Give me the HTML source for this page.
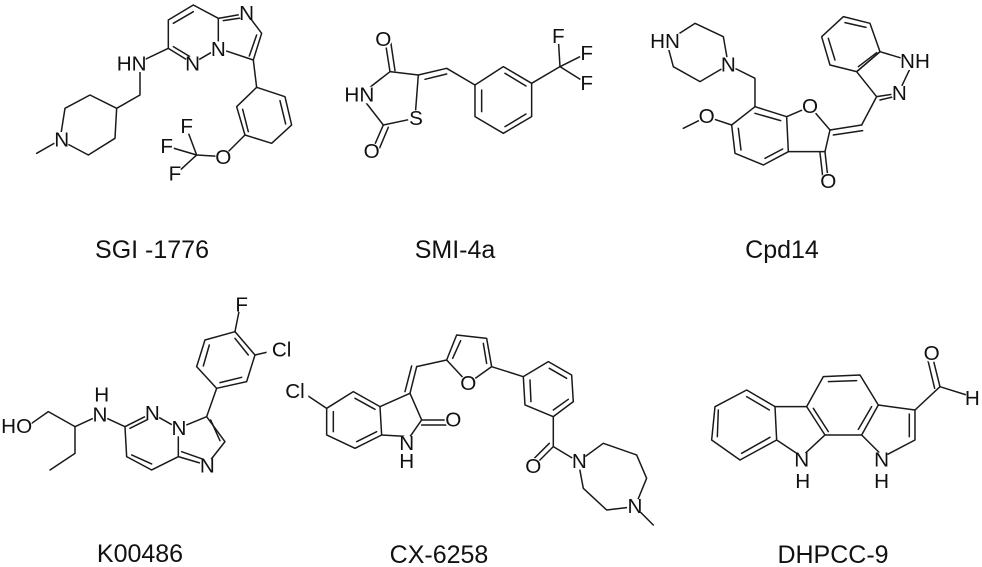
<!DOCTYPE html>
<html><head><meta charset="utf-8"><style>
html,body{margin:0;padding:0;background:#fff;}
svg{display:block;}
.b{fill:none;stroke:#1a1a1a;stroke-width:4.5;stroke-linejoin:round;stroke-linecap:round;}
.a{font-family:"Liberation Sans",sans-serif;font-size:62px;fill:#111;text-anchor:middle;dominant-baseline:central;}
.w{fill:#fff;stroke:none;}
.c{font-family:"Liberation Sans",sans-serif;font-size:25px;fill:#111;text-anchor:middle;}
</style></head><body>
<svg width="982" height="567" viewBox="0 0 982 567" xmlns="http://www.w3.org/2000/svg">
<!-- SGI-1776 -->
<g transform="scale(0.3333)">
<polyline class="b" points="580,15 655,55 655,145 578,190 505,145 505,60 580,15"/>
<polyline class="b" points="520,70 580,35"/>
<polyline class="b" points="520,140 570,170"/>
<polyline class="b" points="655,55 740,40 785,100 760,180 655,145"/>
<polyline class="b" points="670,62 735,52"/>
<polyline class="b" points="770,105 748,168"/>
<polyline class="b" points="760,180 770,262"/>
<polygon class="b" points="770,262 855,290 875,375 815,430 735,405 710,320"/>
<polyline class="b" points="840,302 857,372"/>
<polyline class="b" points="728,328 745,395"/>
<polyline class="b" points="735,405 670,470 590,465"/>
<polyline class="b" points="590,465 560,385"/>
<polyline class="b" points="590,465 505,440"/>
<polyline class="b" points="590,465 525,525"/>
<polyline class="b" points="505,145 400,195"/>
<polyline class="b" points="420,195 420,285 350,325"/>
<polygon class="b" points="350,325 270,285 195,325 180,420 265,465 345,415"/>
<polyline class="b" points="180,420 110,460"/>
<circle class="w" cx="740" cy="40" r="24"/><text class="a" x="740" y="40">N</text>
<circle class="w" cx="655" cy="148" r="24"/><text class="a" x="655" y="148">N</text>
<circle class="w" cx="578" cy="192" r="24"/><text class="a" x="578" y="192">N</text>
<rect class="w" x="355" y="168" width="82" height="48"/><text class="a" x="395" y="192">HN</text>
<circle class="w" cx="185" cy="420" r="24"/><text class="a" x="185" y="420">N</text>
<circle class="w" cx="670" cy="472" r="24"/><text class="a" x="670" y="472">O</text>
<circle class="w" cx="560" cy="380" r="22"/><text class="a" x="560" y="380">F</text>
<circle class="w" cx="500" cy="440" r="22"/><text class="a" x="500" y="440">F</text>
<circle class="w" cx="525" cy="522" r="22"/><text class="a" x="525" y="522">F</text>
</g>
<text class="c" x="152" y="258">SGI -1776</text>

<!-- SMI-4a -->
<g transform="translate(330,0) scale(0.3333)">
<polygon class="b" points="180,215 265,225 255,355 160,375 90,285"/>
<polyline class="b" points="180,215 165,120"/>
<polyline class="b" points="195,212 182,125"/>
<polyline class="b" points="160,375 125,455"/>
<polyline class="b" points="175,382 142,460"/>
<polyline class="b" points="265,225 350,205 435,255"/>
<polyline class="b" points="285,238 350,222"/>
<polygon class="b" points="435,255 520,200 605,250 605,350 520,400 435,350"/>
<polyline class="b" points="455,270 455,335"/>
<polyline class="b" points="525,220 588,258"/>
<polyline class="b" points="525,380 588,342"/>
<polyline class="b" points="605,250 690,200"/>
<polyline class="b" points="690,200 685,115"/>
<polyline class="b" points="690,200 770,160"/>
<polyline class="b" points="690,200 770,250"/>
<circle class="w" cx="160" cy="118" r="26"/><text class="a" x="160" y="118">O</text>
<rect class="w" x="45" y="260" width="85" height="50"/><text class="a" x="88" y="285">HN</text>
<circle class="w" cx="258" cy="355" r="24"/><text class="a" x="258" y="355">S</text>
<circle class="w" cx="125" cy="455" r="26"/><text class="a" x="125" y="455">O</text>
<circle class="w" cx="685" cy="110" r="22"/><text class="a" x="685" y="110">F</text>
<circle class="w" cx="770" cy="160" r="22"/><text class="a" x="770" y="160">F</text>
<circle class="w" cx="770" cy="250" r="22"/><text class="a" x="770" y="250">F</text>
</g>
<text class="c" x="455" y="258">SMI-4a</text>

<!-- Cpd14 -->
<g transform="translate(640,0) scale(0.3333)">
<polygon class="b" points="80,125 165,70 250,110 265,195 180,245 100,200"/>
<polyline class="b" points="265,195 345,235 345,320"/>
<polygon class="b" points="345,320 440,350 445,455 370,495 285,460 275,375"/>
<polyline class="b" points="295,385 303,450"/>
<polyline class="b" points="375,475 428,447"/>
<polyline class="b" points="345,340 422,362"/>
<polyline class="b" points="440,350 510,320 570,390 555,455 445,455"/>
<polyline class="b" points="555,455 565,545"/>
<polyline class="b" points="540,458 550,545"/>
<polyline class="b" points="570,390 665,375"/>
<polyline class="b" points="580,405 668,392"/>
<polyline class="b" points="275,375 200,350 130,385"/>
<polyline class="b" points="665,375 710,290 775,280 820,185 720,155 650,215 710,290"/>
<polyline class="b" points="720,300 770,288"/>
<polygon class="b" points="650,215 720,155 690,70 610,50 545,110 570,195"/>
<polyline class="b" points="565,115 585,180"/>
<polyline class="b" points="615,68 678,82"/>
<polyline class="b" points="655,200 710,158"/>
<rect class="w" x="35" y="100" width="85" height="50"/><text class="a" x="75" y="125">HN</text>
<circle class="w" cx="265" cy="195" r="24"/><text class="a" x="265" y="195">N</text>
<circle class="w" cx="510" cy="320" r="26"/><text class="a" x="510" y="320">O</text>
<circle class="w" cx="200" cy="350" r="26"/><text class="a" x="200" y="350">O</text>
<circle class="w" cx="565" cy="545" r="26"/><text class="a" x="565" y="545">O</text>
<rect class="w" x="782" y="160" width="85" height="50"/><text class="a" x="825" y="185">NH</text>
<circle class="w" cx="778" cy="280" r="24"/><text class="a" x="778" y="280">N</text>
</g>
<text class="c" x="782" y="258">Cpd14</text>

<!-- K00486 -->
<g transform="translate(0,280) scale(0.3333)">
<polyline class="b" points="95,430 145,395 225,440 290,410"/>
<polyline class="b" points="225,440 225,520 150,570"/>
<polyline class="b" points="310,410 375,440"/>
<polygon class="b" points="375,440 455,400 535,445 535,530 455,570 380,530"/>
<polyline class="b" points="390,445 450,415"/>
<polyline class="b" points="395,525 455,552"/>
<polyline class="b" points="535,445 620,410 675,485 620,555 535,530"/>
<polyline class="b" points="545,515 610,538"/>
<polyline class="b" points="632,420 660,482"/>
<polyline class="b" points="620,410 650,325"/>
<polygon class="b" points="650,325 590,260 615,180 705,155 765,225 740,305"/>
<polyline class="b" points="610,258 628,195"/>
<polyline class="b" points="705,175 745,225"/>
<polyline class="b" points="660,308 725,292"/>
<polyline class="b" points="705,155 720,80"/>
<polyline class="b" points="765,225 830,210"/>
<rect class="w" x="5" y="415" width="90" height="50"/><text class="a" x="50" y="440">HO</text>
<circle class="w" cx="300" cy="405" r="24"/><text class="a" x="300" y="405">N</text>
<text class="a" x="305" y="345">H</text>
<circle class="w" cx="457" cy="400" r="24"/><text class="a" x="457" y="400">N</text>
<circle class="w" cx="537" cy="445" r="24"/><text class="a" x="537" y="445">N</text>
<circle class="w" cx="622" cy="558" r="24"/><text class="a" x="622" y="558">N</text>
<circle class="w" cx="725" cy="75" r="22"/><text class="a" x="725" y="75">F</text>
</g>
<text class="c" x="140" y="562">K00486</text>

<!-- CX-6258 -->
<g transform="translate(270,280) scale(0.3333)">
<polygon class="b" points="250,335 330,380 335,465 255,505 170,465 170,385"/>
<polyline class="b" points="190,395 190,455"/>
<polyline class="b" points="255,355 315,388"/>
<polyline class="b" points="260,485 320,455"/>
<polyline class="b" points="170,385 110,345"/>
<polyline class="b" points="330,380 420,340 455,420 420,470 335,465"/>
<polyline class="b" points="455,420 530,420"/>
<polyline class="b" points="455,435 530,435"/>
<polyline class="b" points="420,340 440,260"/>
<polyline class="b" points="405,335 425,258"/>
<polyline class="b" points="440,260 530,240"/>
<polygon class="b" points="530,240 560,165 650,175 665,260 595,310"/>
<polyline class="b" points="548,235 572,182"/>
<polyline class="b" points="640,190 650,250"/>
<polyline class="b" points="665,260 760,290"/>
<polygon class="b" points="760,290 835,245 905,285 910,365 850,410 765,375"/>
<polyline class="b" points="780,300 783,365"/>
<polyline class="b" points="838,265 890,295"/>
<polyline class="b" points="850,390 895,358"/>
<polyline class="b" points="850,410 850,500"/>
<polyline class="b" points="850,500 790,560"/>
<polyline class="b" points="838,490 780,548"/>
<polyline class="b" points="850,500 925,545"/>
<polygon class="b" points="925,545 1000,490 1100,525 1130,595 1095,680 1010,690 940,625"/>
<polyline class="b" points="1095,680 1150,735"/>
<rect class="w" x="35" y="310" width="80" height="50"/><text class="a" x="75" y="335">Cl</text>
<circle class="w" cx="595" cy="310" r="26"/><text class="a" x="595" y="310">O</text>
<circle class="w" cx="550" cy="420" r="26"/><text class="a" x="550" y="420">O</text>
<circle class="w" cx="410" cy="490" r="24"/><text class="a" x="410" y="490">N</text>
<text class="a" x="410" y="545">H</text>
<circle class="w" cx="790" cy="560" r="26"/><text class="a" x="790" y="560">O</text>
<circle class="w" cx="928" cy="545" r="24"/><text class="a" x="928" y="545">N</text>
<circle class="w" cx="1095" cy="680" r="24"/><text class="a" x="1095" y="680">N</text>
</g>
<g transform="translate(0,280) scale(0.3333)">
<rect class="w" x="800" y="185" width="80" height="50"/><text class="a" x="845" y="210">Cl</text>
</g>
<text class="c" x="439" y="563">CX-6258</text>

<!-- DHPCC-9 -->
<g transform="translate(680,280) scale(0.3333)">
<polygon class="b" points="200,330 285,380 290,480 180,540 95,480 105,380"/>
<polyline class="b" points="200,350 268,390"/>
<polyline class="b" points="115,390 112,470"/>
<polyline class="b" points="185,520 270,472"/>
<polyline class="b" points="290,480 365,530"/>
<polyline class="b" points="285,380 380,380"/>
<polygon class="b" points="380,380 430,290 540,285 595,375 545,465 435,465"/>
<polyline class="b" points="445,305 530,302"/>
<polyline class="b" points="400,385 445,455"/>
<polyline class="b" points="575,380 535,448"/>
<polyline class="b" points="365,530 435,465"/>
<polyline class="b" points="595,375 705,390 705,480 610,530 545,465"/>
<polyline class="b" points="688,402 688,470"/>
<polyline class="b" points="705,390 780,320"/>
<polyline class="b" points="780,320 755,220"/>
<polyline class="b" points="764,325 740,225"/>
<polyline class="b" points="780,320 860,345"/>
<circle class="w" cx="365" cy="540" r="24"/><text class="a" x="365" y="540">N</text>
<text class="a" x="368" y="605">H</text>
<circle class="w" cx="605" cy="540" r="24"/><text class="a" x="605" y="540">N</text>
<text class="a" x="605" y="605">H</text>
<circle class="w" cx="755" cy="220" r="26"/><text class="a" x="755" y="220">O</text>
<circle class="w" cx="877" cy="355" r="22"/><text class="a" x="877" y="355">H</text>
</g>
<text class="c" x="833" y="563">DHPCC-9</text>
</svg>
</body></html>
